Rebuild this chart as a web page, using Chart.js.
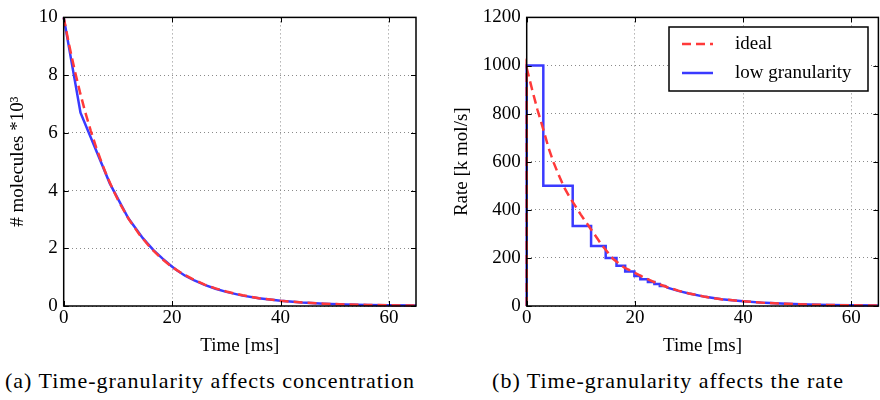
<!DOCTYPE html>
<html>
<head>
<meta charset="utf-8">
<script src="https://cdn.jsdelivr.net/npm/chart.js@4"></script>
<style>
  body { margin: 0; background: #fff; width: 880px; height: 400px; position: relative; overflow: hidden; }
  .panel { position: absolute; top: 0; width: 440px; height: 360px; }
  .caption { position: absolute; top: 369px; font-family: 'Liberation Serif', serif; font-size: 22px; letter-spacing: 1px; line-height: 24px; white-space: nowrap; transform: translateX(-50%); color: #000; }
</style>
</head>
<body>
<div class="panel" style="left:0"><canvas id="conc" width="440" height="360"></canvas></div>
<div class="panel" style="left:440px"><canvas id="rate" width="440" height="360"></canvas></div>
<div class="caption" style="left:210px">(a) Time-granularity affects concentration</div>
<div class="caption" style="left:668px">(b) Time-granularity affects the rate</div>
<script>
// time axis ticks
const timeTicks = [0, 20, 40, 60];

// (a) concentration, thousands of molecules
const concTime = [0, 1, 2, 3, 4, 5, 6, 7, 8, 9, 10, 12, 14, 16, 18, 20, 22, 24, 26, 28, 30, 33, 36, 40, 44, 48, 52, 56, 60, 65];
const concIdeal = [10, 9.05, 8.19, 7.41, 6.70, 6.07, 5.49, 4.97, 4.49, 4.07, 3.68, 3.01, 2.47, 2.02, 1.65, 1.35, 1.11, 0.91, 0.74, 0.61, 0.50, 0.37, 0.27, 0.18, 0.12, 0.08, 0.055, 0.037, 0.025, 0.015];
const concLowTime = [0, 3.1, 8.5, 11.9, 14.6, 16.6, 18.2, 19.9, 21, 22.4, 24, 26, 28, 30, 33, 36, 40, 44, 48, 52, 56, 60, 65];
const concLow = [10, 6.7, 4.25, 3.05, 2.35, 1.93, 1.65, 1.38, 1.22, 1.05, 0.9, 0.73, 0.6, 0.49, 0.36, 0.27, 0.18, 0.12, 0.08, 0.055, 0.037, 0.025, 0.015];

// (b) rate, k mol/s
const rateTime = [0, 0, 1, 2, 3, 4, 5, 6, 7, 8, 9, 10, 12, 14, 16, 18, 20, 22, 24, 26, 28, 30, 33, 36, 40, 44, 48, 52, 56, 60, 65];
const rateIdeal = [0, 990, 900, 815, 740, 660, 595, 540, 490, 450, 415, 380, 315, 250, 195, 160, 138, 115, 95, 78, 64, 52, 38, 28, 20, 13, 9, 6, 4, 3, 2];
const rateLowTime = [0, 0, 3.07, 3.07, 8.5, 8.5, 11.9, 11.9, 14.6, 14.6, 16.6, 16.6, 18.2, 18.2, 19.9, 19.9, 21, 21, 22.4, 22.4, 23.6, 23.6, 24.6, 24.6, 25.6, 26, 28, 30, 33, 36, 40, 44, 48, 52, 56, 60, 65];
const rateLow = [0, 1000, 1000, 500, 500, 333, 333, 250, 250, 200, 200, 167, 167, 143, 143, 125, 125, 111, 111, 100, 100, 91, 91, 83, 83, 76, 63, 52, 38, 28, 20, 13, 9, 6, 4, 3, 2];

const RED = '#ff3a3a';
const BLUE = '#3a3aff';
const SERIF = "'Liberation Serif', 'Times New Roman', serif";

const toPoints = (xs, ys) => xs.map((x, i) => ({ x, y: ys[i] }));

// box round the plot + inner tick marks on all four sides
const framePlugin = {
  id: 'frame',
  afterDatasetsDraw(chart) {
    const { ctx, chartArea: a, scales } = chart;
    ctx.save();
    ctx.strokeStyle = '#000';
    ctx.lineWidth = 1.5;
    ctx.strokeRect(a.left, a.top, a.right - a.left, a.bottom - a.top);
    ctx.lineWidth = 1;
    ctx.beginPath();
    scales.x.ticks.forEach(t => {
      const px = Math.round(scales.x.getPixelForValue(t.value)) + 0.5;
      ctx.moveTo(px, a.bottom); ctx.lineTo(px, a.bottom - 5);
      ctx.moveTo(px, a.top); ctx.lineTo(px, a.top + 5);
    });
    scales.y.ticks.forEach(t => {
      const py = Math.round(scales.y.getPixelForValue(t.value)) + 0.5;
      ctx.moveTo(a.left, py); ctx.lineTo(a.left + 5, py);
      ctx.moveTo(a.right, py); ctx.lineTo(a.right - 5, py);
    });
    ctx.stroke();
    ctx.restore();
  }
};

// boxed legend inside the plot, top right
const boxLegend = {
  id: 'boxLegend',
  afterDraw(chart, args, opts) {
    if (!opts.show) return;
    const { ctx } = chart;
    const x0 = 229, y0 = 27, w = 199, h = 64;
    ctx.save();
    ctx.fillStyle = '#fff';
    ctx.fillRect(x0, y0, w, h);
    ctx.strokeStyle = '#000';
    ctx.lineWidth = 1.5;
    ctx.strokeRect(x0, y0, w, h);
    chart.data.datasets.forEach((ds, i) => {
      const y = y0 + 17 + i * 29;
      ctx.strokeStyle = ds.borderColor;
      ctx.lineWidth = ds.borderWidth;
      ctx.setLineDash(ds.borderDash || []);
      ctx.beginPath();
      ctx.moveTo(x0 + 13, y);
      ctx.lineTo(x0 + 44, y);
      ctx.stroke();
      ctx.setLineDash([]);
      ctx.fillStyle = '#000';
      ctx.font = `19px ${SERIF}`;
      ctx.textBaseline = 'middle';
      ctx.fillText(ds.label, x0 + 66, y);
    });
    ctx.restore();
  }
};

function makeChart(id, cfg) {
  const ctx = document.getElementById(id).getContext('2d');
  return new Chart(ctx, {
    type: 'line',
    data: {
      datasets: [{
        label: 'ideal',
        data: cfg.ideal,
        borderColor: RED,
        borderWidth: 2.5,
        borderDash: [9, 5],
        pointRadius: 0,
        tension: 0,
        clip: 4
      }, {
        label: 'low granularity',
        data: cfg.low,
        borderColor: BLUE,
        borderWidth: 2.5,
        pointRadius: 0,
        tension: 0,
        clip: 4
      }]
    },
    options: {
      responsive: false,
      animation: false,
      layout: { padding: { top: 16, right: cfg.padRight, left: 0, bottom: 0 } },
      plugins: {
        legend: { display: false },
        tooltip: { enabled: false },
        boxLegend: { show: cfg.legend }
      },
      scales: {
        x: {
          type: 'linear',
          min: 0,
          max: 65,
          afterBuildTicks: (scale) => { scale.ticks = timeTicks.map(v => ({ value: v })); },
          afterFit: (scale) => { scale.height = 54; },
          grid: { color: '#8a8a8a', drawTicks: false },
          border: { display: false, dash: [1, 3] },
          ticks: { color: '#000', padding: 1, font: { family: SERIF, size: 19 }, callback: v => String(v) },
          title: { display: true, text: 'Time [ms]', color: '#000', padding: { top: 0, bottom: 3 }, font: { family: SERIF, size: 19 } }
        },
        y: {
          min: 0,
          max: cfg.yMax,
          afterBuildTicks: (scale) => { scale.ticks = cfg.yTicks.map(v => ({ value: v })); },
          afterFit: (scale) => { scale.width = cfg.axisLeft; },
          grid: { color: '#8a8a8a', drawTicks: false },
          border: { display: false, dash: [1, 3] },
          ticks: { color: '#000', padding: 6, font: { family: SERIF, size: 19 }, callback: v => String(v) },
          title: { display: true, text: cfg.yTitle, color: '#000', padding: { top: cfg.titlePad, bottom: 0 }, font: { family: SERIF, size: 19 } }
        }
      }
    },
    plugins: [framePlugin, boxLegend]
  });
}

const concTicks = [0, 2, 4, 6, 8, 10];
const rateTicks = [0, 200, 400, 600, 800, 1000, 1200];

makeChart('conc', {
  ideal: toPoints(concTime, concIdeal),
  low: toPoints(concLowTime, concLow),
  yMax: 10,
  yTicks: concTicks,
  yTitle: '# molecules *10³',
  axisLeft: 63.7,
  titlePad: 6.6,
  padRight: 24,
  legend: false
});

makeChart('rate', {
  ideal: toPoints(rateTime, rateIdeal),
  low: toPoints(rateLowTime, rateLow),
  yMax: 1200,
  yTicks: rateTicks,
  yTitle: 'Rate [k mol/s]',
  axisLeft: 86.7,
  titlePad: 10.6,
  padRight: 1.6,
  legend: true
});
</script>
</body>
</html>
